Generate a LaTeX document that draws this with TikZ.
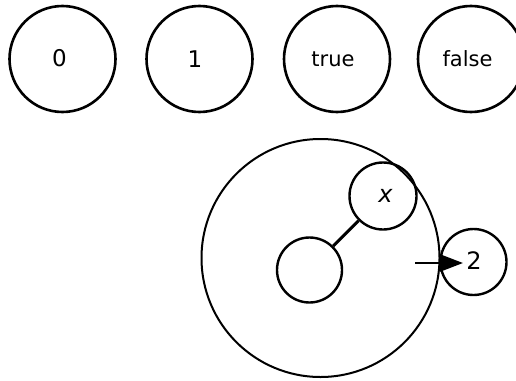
\documentclass[tikz,border=0pt]{standalone}
\usepackage{fontspec}
\setmainfont{DejaVu Sans}
\usetikzlibrary{arrows.meta}
\begin{document}
\begin{tikzpicture}[x=1pt,y=-1pt,
  ball/.style={circle,draw,line width=2.6pt,inner sep=0pt,minimum size=#1},
  wordfont/.style={font=\fontsize{21}{23}\selectfont},
  digitfont/.style={font=\fontsize{23}{25}\selectfont}]
\useasboundingbox (0,0) rectangle (516,380);
% top row
\node[ball=106pt,digitfont] (n0) at (62.5,59) {\raisebox{3pt}{\kern-6pt 0}};
\node[ball=106pt,digitfont] (n1) at (199.5,59) {\raisebox{-2pt}{\kern-9pt 1}};
\node[ball=106pt,wordfont] (ntrue) at (337,59) {\kern-8pt true};
\node[ball=106pt,wordfont] (nfalse) at (471,59) {\kern-7pt false};
% big circle
\node[circle,draw,line width=2pt,inner sep=0pt,minimum size=238pt] (big) at (320.5,258) {};
\node[ball=67pt,line width=2.4pt,font=\fontsize{24}{26}\itshape\selectfont] (nx) at (383,196) {\kern5pt x};
\node[ball=65pt,line width=2.4pt] (inner) at (309.5,270) {};
\draw[line width=3pt] (inner) -- (nx);
\node[ball=66pt,line width=2.4pt] (n2) at (473.5,262) {};
\node[font=\fontsize{24}{26}\selectfont,inner sep=0pt] (two) at (474,261) {2};
\coordinate (start) at (415,263);
\coordinate (tip) at (463,263);
\draw[line width=2.4pt,-{Triangle[length=23pt,width=17pt]}] (start) -- (tip);
\end{tikzpicture}
\end{document}
